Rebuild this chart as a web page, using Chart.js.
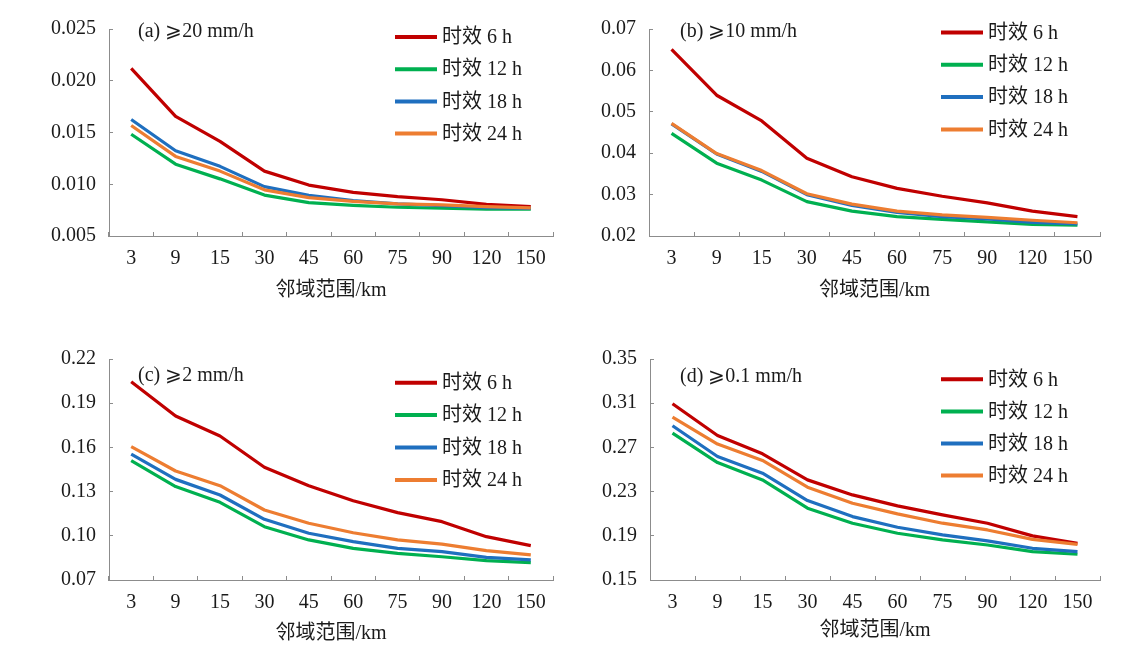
<!DOCTYPE html>
<html>
<head>
<meta charset="utf-8">
<script src="https://cdn.jsdelivr.net/npm/chart.js@4"></script>
<style>
  body { margin: 0; background: #fff; }
  #wrap { position: relative; width: 1142px; height: 648px; }
  canvas { position: absolute; }
</style>
</head>
<body>
<div id="wrap">
  <canvas id="ca" width="571" height="324" style="left:0;top:0"></canvas>
  <canvas id="cb" width="571" height="324" style="left:571px;top:0"></canvas>
  <canvas id="cc" width="571" height="324" style="left:0;top:324px"></canvas>
  <canvas id="cd" width="571" height="324" style="left:571px;top:324px"></canvas>
</div>
<script>
const categories = ['3', '9', '15', '30', '45', '60', '75', '90', '120', '150'];
const seriesNames = ['时效 6 h', '时效 12 h', '时效 18 h', '时效 24 h'];
const seriesColors = ['#C00000', '#00B050', '#1F6FBF', '#ED7D31'];
const xTitle = '邻域范围/km';

// (a) >=20 mm/h
const a6 = [0.0212, 0.01655, 0.01414, 0.01127, 0.00992, 0.00922, 0.0088, 0.0085, 0.00805, 0.00784];
const a12 = [0.01483, 0.01194, 0.01052, 0.00895, 0.00823, 0.00796, 0.00778, 0.00768, 0.0076, 0.0076];
const a18 = [0.01625, 0.01324, 0.01173, 0.00977, 0.00892, 0.00841, 0.0081, 0.00793, 0.00775, 0.00766];
const a24 = [0.01568, 0.01269, 0.01127, 0.00946, 0.00871, 0.00835, 0.0081, 0.008, 0.00784, 0.00772];
const aTicks = [0.005, 0.010, 0.015, 0.020, 0.025];

// (b) >=10 mm/h
const b6 = [0.0651, 0.0540, 0.0478, 0.0388, 0.0343, 0.0315, 0.0296, 0.0280, 0.0260, 0.0247];
const b12 = [0.0448, 0.0376, 0.0335, 0.0283, 0.0260, 0.0247, 0.0240, 0.0234, 0.0228, 0.0226];
const b18 = [0.0471, 0.0398, 0.0356, 0.0300, 0.0274, 0.0257, 0.0247, 0.0241, 0.0233, 0.0229];
const b24 = [0.0472, 0.0399, 0.0358, 0.0302, 0.0277, 0.0260, 0.0251, 0.0245, 0.0238, 0.0232];
const bTicks = [0.02, 0.03, 0.04, 0.05, 0.06, 0.07];

// (c) >=2 mm/h
const c6 = [0.2046, 0.1813, 0.1677, 0.1465, 0.1340, 0.1238, 0.1157, 0.1096, 0.0994, 0.0933];
const c12 = [0.1510, 0.1334, 0.1227, 0.1062, 0.0972, 0.0915, 0.0881, 0.0858, 0.0831, 0.0818];
const c18 = [0.1555, 0.1383, 0.1277, 0.1112, 0.1017, 0.0960, 0.0915, 0.0892, 0.0854, 0.0836];
const c24 = [0.1605, 0.1440, 0.1340, 0.1175, 0.1085, 0.1021, 0.0972, 0.0944, 0.0899, 0.0870];
const cTicks = [0.07, 0.10, 0.13, 0.16, 0.19, 0.22];

// (d) >=0.1 mm/h
const d6 = [0.3095, 0.2808, 0.2642, 0.2406, 0.2270, 0.2171, 0.2089, 0.2014, 0.1899, 0.1832];
const d12 = [0.2829, 0.2563, 0.2406, 0.2150, 0.2014, 0.1923, 0.1863, 0.1817, 0.1757, 0.1733];
const d18 = [0.2896, 0.2618, 0.2467, 0.2219, 0.2074, 0.1977, 0.1908, 0.1854, 0.1787, 0.1757];
const d24 = [0.2974, 0.2730, 0.2582, 0.2340, 0.2195, 0.2098, 0.2014, 0.1953, 0.1868, 0.1823];
const dTicks = [0.15, 0.19, 0.23, 0.27, 0.31, 0.35];

const FONT = '"Liberation Serif", "Noto Sans CJK SC", "DejaVu Serif", serif';
const TEXT = '#1a1a1a';
const AXIS = '#8c8c8c';

// panel label + legend drawn inside the plot
const overlay = {
  id: 'overlay',
  afterDraw(chart, args, opts) {
    const ctx = chart.ctx;
    ctx.save();
    ctx.fillStyle = TEXT;
    ctx.font = '20px ' + FONT;
    ctx.textBaseline = 'middle';
    ctx.textAlign = 'left';
    ctx.fillText(opts.label, opts.labelX, opts.labelY);
    chart.data.datasets.forEach((ds, i) => {
      const y = opts.legY + i * opts.legDy;
      ctx.strokeStyle = ds.borderColor;
      ctx.lineWidth = 4;
      ctx.lineCap = 'butt';
      ctx.beginPath();
      ctx.moveTo(opts.legX, y);
      ctx.lineTo(opts.legX + 42, y);
      ctx.stroke();
      ctx.fillStyle = TEXT;
      ctx.fillText(ds.label, opts.legX + 47, y + 1);
    });
    ctx.restore();
  }
};

function makePanel(id, series, ticks, decimals, box, titlePad, over) {
  new Chart(document.getElementById(id), {
    type: 'line',
    data: {
      labels: categories,
      datasets: series.map((s, i) => ({
        label: seriesNames[i],
        data: s,
        borderColor: seriesColors[i],
        borderWidth: 3.2,
        pointRadius: 0,
        tension: 0,
        borderJoinStyle: 'round',
        order: 3 - i
      }))
    },
    options: {
      responsive: false,
      animation: false,
      events: [],
      layout: { padding: { left: 0, top: box.top, right: 571 - box.right, bottom: 0 } },
      plugins: {
        legend: { display: false },
        tooltip: { enabled: false },
        overlay: over
      },
      scales: {
        x: {
          type: 'category',
          offset: true,
          grid: { display: true, drawOnChartArea: false, offset: true, tickLength: -4, color: AXIS, lineWidth: 1 },
          border: { color: AXIS, width: 1 },
          ticks: { color: TEXT, font: { family: FONT, size: 20 }, padding: 15, maxRotation: 0, autoSkip: false },
          title: { display: true, text: xTitle, color: TEXT, font: { family: FONT, size: 20 }, padding: { top: 0, bottom: titlePad } },
          afterFit(scale) { scale.height = 324 - box.bottom; }
        },
        y: {
          min: ticks[0],
          max: ticks[ticks.length - 1],
          grid: { display: true, drawOnChartArea: false, tickLength: -4, color: AXIS, lineWidth: 1 },
          border: { color: AXIS, width: 1 },
          ticks: {
            color: TEXT, font: { family: FONT, size: 20 }, padding: 17,
            callback: v => Number(v).toFixed(decimals)
          },
          afterBuildTicks(scale) { scale.ticks = ticks.map(v => ({ value: v })); },
          afterFit(scale) { scale.width = box.left; }
        }
      }
    },
    plugins: [overlay]
  });
}

makePanel('ca', [a6, a12, a18, a24], aTicks, 3,
  { left: 109, right: 553, top: 15, bottom: 236 }, 21,
  { label: '(a) ⩾20 mm/h', labelX: 138, labelY: 32, legX: 395, legY: 37, legDy: 32.2 });
makePanel('cb', [b6, b12, b18, b24], bTicks, 2,
  { left: 78, right: 529, top: 15, bottom: 236 }, 21,
  { label: '(b) ⩾10 mm/h', labelX: 109, labelY: 32, legX: 370, legY: 32.5, legDy: 32.3 });
makePanel('cc', [c6, c12, c18, c24], cTicks, 2,
  { left: 109, right: 553, top: 35, bottom: 256 }, 2,
  { label: '(c) ⩾2 mm/h', labelX: 138, labelY: 52, legX: 395, legY: 58.7, legDy: 32.4 });
makePanel('cd', [d6, d12, d18, d24], dTicks, 2,
  { left: 79, right: 529, top: 35, bottom: 256 }, 5,
  { label: '(d) ⩾0.1 mm/h', labelX: 109, labelY: 52.7, legX: 370, legY: 55.3, legDy: 32.1 });
</script>
</body>
</html>
